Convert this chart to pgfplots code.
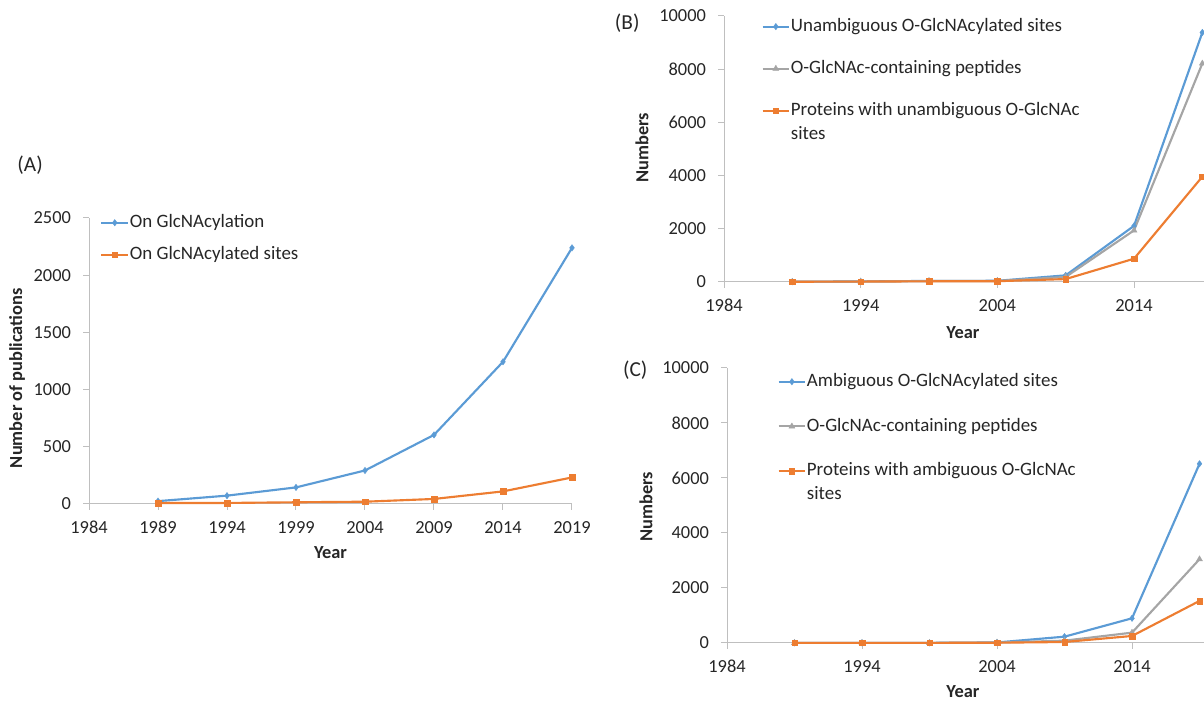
\documentclass[border=0pt]{standalone}
\usepackage{fontspec}
\setmainfont{Carlito}
\usepackage{pgfplots}
\pgfplotsset{compat=1.18}
\definecolor{cblue}{HTML}{5B9BD5}
\definecolor{corange}{HTML}{ED7D31}
\definecolor{cgray}{HTML}{A5A5A5}
\definecolor{caxis}{HTML}{BFBFBF}
\definecolor{ctext}{HTML}{262626}
\pgfplotsset{
  exstyle/.style={
    scale only axis,
    axis x line*=bottom, axis y line*=left,
    axis line style={caxis, line width=0.75pt, -},
    tick style={caxis, line width=0.75pt},
    tick align=outside,
    major tick length=4.5pt,
    minor tick num=0,
    scaled ticks=false,
    every tick label/.append style={font=\fontsize{13.8}{16}\selectfont, text=ctext},
    xticklabel style={yshift=-5pt},
    yticklabel style={xshift=-5.5pt},
    /pgf/number format/assume math mode=true,
    /pgf/number format/1000 sep={},
    xmin=1984, ymin=0,
    clip=false,
    label style={font=\fontsize{13.8}{16}\selectfont\bfseries, text=ctext},
    legend cell align=left,
    legend style={draw=none, fill=none, inner sep=0pt, anchor=north west,
      font=\fontsize{14.2}{18}\selectfont, text=ctext,
      nodes={text height=10pt, text depth=3pt, inner sep=0.5pt}},
    legend image code/.code={\draw[mark repeat=2,mark phase=2,#1] plot coordinates {(0pt,0pt) (10pt,0pt) (20pt,0pt)};},
  },
  sblue/.style={cblue, line width=1.6pt, mark=diamond*, mark size=2.4pt, mark options={solid, line width=0.3pt}},
  sorange/.style={corange, line width=1.6pt, mark=square*, mark size=2.1pt, mark options={solid, line width=0.3pt}},
  sgray/.style={cgray, line width=1.6pt, mark=triangle*, mark size=2.6pt, mark options={solid, line width=0.3pt}},
}
\begin{document}
\begin{tikzpicture}
\path[use as bounding box] (0pt,0pt) rectangle (903pt,526.5pt);
% ---------------- Panel A ----------------
\begin{axis}[exstyle, at={(66.75pt,148.5pt)}, anchor=south west,
  width=362.25pt, height=214.5pt,
  xmax=2019, ymax=2500,
  xtick={1984,1989,1994,1999,2004,2009,2014,2019},
  ytick={0,500,1000,1500,2000,2500},
  xlabel={Year}, ylabel={Number of publications},
  xlabel style={at={(axis description cs:0.5,-0.171)}, anchor=center},
  ylabel style={at={(axis description cs:-0.149,0.44)}, anchor=center},
  legend style={at={(axis description cs:0.023,1.017)}, row sep=10pt},
]
\addplot[sblue] coordinates {(1989,25)(1994,73)(1999,145)(2004,293)(2009,604)(2014,1243)(2019,2239)};
\addlegendentry{On GlcNAcylation}
\addplot[sorange] coordinates {(1989,8)(1994,9)(1999,15)(2004,20)(2009,44)(2014,110)(2019,232)};
\addlegendentry{On GlcNAcylated sites}
\node[font=\fontsize{16}{18}\selectfont, text=ctext] at (axis description cs:-0.122,1.185) {(A)};
\end{axis}
% ---------------- Panel B ----------------
\begin{axis}[exstyle, at={(543pt,315pt)}, anchor=south west,
  width=410pt, height=199.5pt,
  xmax=2024, ymax=10000,
  xtick={1984,1994,2004,2014},
  ytick={0,2000,4000,6000,8000,10000},
  xlabel={Year}, ylabel={Numbers},
  xlabel style={at={(axis description cs:0.437,-0.192)}, anchor=center},
  ylabel style={at={(axis description cs:-0.150,0.504)}, anchor=center},
  legend style={at={(axis description cs:0.068,0.996)}, row sep=17.5pt},
]
\addplot[sblue] coordinates {(1989,10)(1994,20)(1999,40)(2004,45)(2009,250)(2014,2110)(2019,9380)};
\addlegendentry{Unambiguous O-GlcNAcylated sites}
\addplot[sgray] coordinates {(1989,10)(1994,20)(1999,35)(2004,40)(2009,190)(2014,1940)(2019,8215)};
\addlegendentry{O-GlcNAc-containing peptides}
\addplot[sorange] coordinates {(1989,10)(1994,15)(1999,25)(2004,30)(2009,110)(2014,875)(2019,3960)};
\addlegendentry{\begin{tabular}[t]{@{}l@{}}Proteins with unambiguous O-GlcNAc\\sites\end{tabular}}
\node[font=\fontsize{16}{18}\selectfont, text=ctext] at (axis description cs:-0.177,0.974) {(B)};
\end{axis}
% ---------------- Panel C ----------------
\begin{axis}[exstyle, at={(545.25pt,44.25pt)}, anchor=south west,
  width=405pt, height=206.25pt,
  xmax=2024, ymax=10000,
  xtick={1984,1994,2004,2014},
  ytick={0,2000,4000,6000,8000,10000},
  xlabel={Year}, ylabel={Numbers},
  xlabel style={at={(axis description cs:0.437,-0.178)}, anchor=center},
  ylabel style={at={(axis description cs:-0.150,0.495)}, anchor=center},
  legend style={at={(axis description cs:0.093,0.985)}, row sep=19.5pt},
]
\addplot[sblue] coordinates {(1989,5)(1994,5)(1999,5)(2004,20)(2009,230)(2014,898)(2019,6517)};
\addlegendentry{Ambiguous O-GlcNAcylated sites}
\addplot[sgray] coordinates {(1989,5)(1994,5)(1999,5)(2004,15)(2009,85)(2014,376)(2019,3046)};
\addlegendentry{O-GlcNAc-containing peptides}
\addplot[sorange] coordinates {(1989,5)(1994,5)(1999,5)(2004,10)(2009,36)(2014,255)(2019,1529)};
\addlegendentry{\begin{tabular}[t]{@{}l@{}}Proteins with ambiguous O-GlcNAc\\sites\end{tabular}}
\node[font=\fontsize{16}{18}\selectfont, text=ctext] at (axis description cs:-0.170,0.993) {(C)};
\end{axis}
\end{tikzpicture}
\end{document}
